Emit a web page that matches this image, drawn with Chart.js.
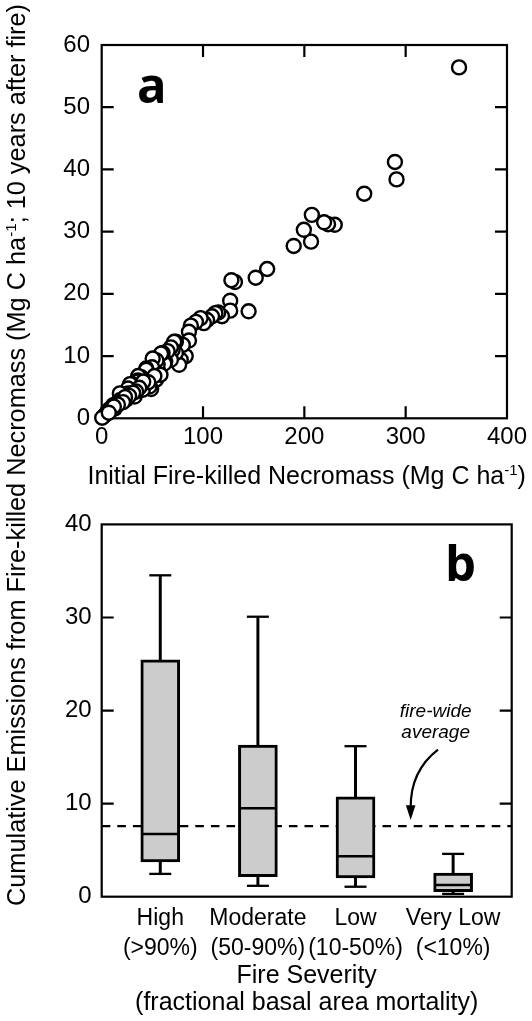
<!DOCTYPE html>
<html><head><meta charset="utf-8">
<script src="https://cdn.jsdelivr.net/npm/chart.js@4"></script>
<style>
html,body{margin:0;padding:0;background:#fff;}
body{width:532px;height:1021px;position:relative;overflow:hidden;font-family:'Liberation Sans',Arial,sans-serif;color:#000;}
canvas{position:absolute;left:0;}
.t{position:absolute;white-space:nowrap;text-align:center;}
sup{font-size:0.6em;vertical-align:0.6em;line-height:0;}
.big{position:absolute;font-family:'Open Sans',sans-serif;font-weight:700;font-size:49px;line-height:49px;}
</style></head><body>
<canvas id="ca" width="532" height="500" style="top:0;width:532px;height:500px"></canvas>
<canvas id="cb" width="532" height="521" style="top:500px;width:532px;height:521px"></canvas>
<div class="t" style="left:-484px;top:440px;width:1000px;height:30px;line-height:30px;font-size:25.3px;transform:rotate(-90deg);">Cumulative Emissions from Fire-killed Necromass (Mg C ha<sup>-1</sup>; 10 years after fire)</div>
<div class="t" style="left:6.7px;top:461px;width:600px;line-height:28px;font-size:25px;">Initial Fire-killed Necromass (Mg C ha<sup>-1</sup>)</div>
<div class="t" style="left:6.7px;top:961px;width:600px;line-height:27px;font-size:25px;">Fire Severity<br>(fractional basal area mortality)</div>
<div class="t" style="left:335.7px;top:700px;width:200px;line-height:21px;font-size:19px;font-style:italic;">fire-wide<br>average</div>
<div class="big" style="left:137px;top:60px;">a</div>
<div class="big" style="left:445px;top:538px;">b</div>
<script>
// ---------- Panel a data ----------
const necroInitial = [352.7,289.4,291,259.1,230,223.4,219.5,207.4,206.6,199.5,189.5,163.3,152,145,131.5,128,126.8,126.8,118.7,115,112.2,108.9,104,100.8,97.6,93,88,86.1,86.1,82.9,80,78,76.4,73.2,73.2,71.5,70,68.3,68.3,65,62.7,61.8,60.1,58.5,56,55.2,54,53.6,50.3,50.3,49.7,48.8,47.1,45,44,43.9,42.2,40.6,39,38,36,35.7,35.7,33,32.5,30.9,29.3,28,26,26,24,22.7,20,19,17.9,17.9,15,13,11.3,9.5,8.1,6.4,5,3.2,0.5,58,52,46,41,37,34,31,27,23,21,16,12,7];
const necroRemaining = [56.4,41.2,38.4,36.1,31.1,31.2,31.5,32.7,28.4,30.3,27.7,24.0,22.6,17.2,21.9,22.2,18.9,17.3,16.4,17.0,16.9,16.4,15.8,15.3,16.1,15.5,14.9,13.9,12.5,10.0,11.8,9.4,8.6,10.5,12.3,12.3,11.0,11.4,9.4,10.8,9.1,8.8,10.5,10.4,7.5,8.6,9.3,6.2,9.6,7.2,8.2,4.7,5.1,6.2,8.0,7.8,5.4,4.6,6.6,5.2,6.8,6.1,5.9,5.0,3.5,5.4,4.6,5.5,4.8,4.0,3.0,3.8,3.3,3.9,4.0,2.9,2.4,1.6,2.1,1.7,1.1,1.3,0.9,0.5,0.1,7.0,6.8,5.8,5.9,4.9,4.3,4.1,3.6,3.4,2.6,2.2,1.9,0.9];
const xTickValuesA = [0,100,200,300,400];
const yTickValuesA = [0,10,20,30,40,50,60];

// ---------- Panel b data ----------
const severityClass = ['High','Moderate','Low','Very Low'];
const severityRange = ['(>90%)','(50-90%)','(10-50%)','(<10%)'];
const whiskerLow  = [2.45, 1.17, 1.07, 0.3];
const quartile1   = [3.74, 2.14, 2.03, 0.55];
const medianVal   = [6.73, 9.5, 4.35, 1.25];
const quartile3   = [25.46, 16.3, 10.72, 2.55];
const whiskerHigh = [34.53, 30.08, 16.17, 4.6];
const fireWideAverage = 7.58;
const yTickValuesB = [0,10,20,30,40];
const xRangeB = [0.4, 4.6];

Chart.defaults.font.family = "'Liberation Sans', Arial, sans-serif";
Chart.defaults.font.size = 24;
Chart.defaults.color = '#000';
Chart.defaults.animation = false;
Chart.defaults.plugins.legend.display = false;
Chart.defaults.plugins.tooltip.enabled = false;

const framePlugin = {
  id: 'frame',
  beforeDatasetsDraw(chart, args, o) {
    const {ctx, chartArea: a} = chart;
    ctx.save();
    ctx.strokeStyle = '#000';
    ctx.lineWidth = 2.2;
    ctx.strokeRect(a.left, a.top, a.right - a.left, a.bottom - a.top);
    const L = 12;
    ctx.beginPath();
    if (o.xTicks) {
      const sx = chart.scales.x;
      sx.ticks.forEach(t => {
        const px = sx.getPixelForValue(t.value);
        if (px <= a.left + 1 || px >= a.right - 1) return;
        ctx.moveTo(px, a.bottom); ctx.lineTo(px, a.bottom - L);
        ctx.moveTo(px, a.top); ctx.lineTo(px, a.top + L);
      });
    }
    const sy = chart.scales.y;
    sy.ticks.forEach(t => {
      const py = sy.getPixelForValue(t.value);
      if (py <= a.top + 1 || py >= a.bottom - 1) return;
      ctx.moveTo(a.left, py); ctx.lineTo(a.left + L, py);
      ctx.moveTo(a.right, py); ctx.lineTo(a.right - L, py);
    });
    ctx.stroke();
    ctx.restore();
  }
};

const arrowPlugin = {
  id: 'arrow',
  afterDatasetsDraw(chart) {
    if (!chart.options.plugins.arrow) return;
    const {ctx} = chart;
    const sx = chart.scales.x, sy = chart.scales.y;
    const p = (x, y) => [sx.getPixelForValue(x), sy.getPixelForValue(y)];
    const s = p(3.845, 15.8), c = p(3.56, 13.5), e = p(3.565, 9.5), tip = p(3.565, 8.25);
    ctx.save();
    ctx.strokeStyle = '#000'; ctx.fillStyle = '#000'; ctx.lineWidth = 2.2;
    ctx.beginPath(); ctx.moveTo(s[0], s[1]); ctx.quadraticCurveTo(c[0], c[1], e[0], e[1]); ctx.stroke();
    ctx.beginPath(); ctx.moveTo(tip[0], tip[1]); ctx.lineTo(tip[0] - 4.8, e[1] - 3); ctx.lineTo(tip[0] + 4.8, e[1] - 3); ctx.closePath(); ctx.fill();
    ctx.restore();
  }
};

// ---------- Chart a ----------
new Chart(document.getElementById('ca'), {
  type: 'scatter',
  data: {
    datasets: [{
      data: necroInitial.map((x, i) => ({x, y: necroRemaining[i]})),
      pointRadius: 7,
      pointBackgroundColor: '#fff',
      pointBorderColor: '#000',
      pointBorderWidth: 2.4,
      clip: false
    }]
  },
  options: {
    responsive: false,
    devicePixelRatio: 1,
    layout: {padding: {left: 0, right: 20.3, top: 45, bottom: 0}},
    scales: {
      x: {
        type: 'linear', min: 0, max: 400, offset: false,
        grid: {display: false, drawTicks: false},
        border: {display: false},
        afterBuildTicks: s => { s.ticks = xTickValuesA.map(v => ({value: v})); },
        afterFit: s => { s.height = 81.7; },
        ticks: {padding: 5, autoSkip: false, maxRotation: 0, font: {size: 24}}
      },
      y: {
        min: 0, max: 60,
        grid: {display: false, drawTicks: false},
        border: {display: false},
        afterBuildTicks: s => { s.ticks = yTickValuesA.map(v => ({value: v})); },
        afterFit: s => { s.width = 101.7; },
        ticks: {padding: 11.7, font: {size: 24}}
      }
    },
    plugins: {frame: {xTicks: true}}
  },
  plugins: [framePlugin]
});

// ---------- Chart b ----------
const pos = severityClass.map((_, i) => i + 1);
new Chart(document.getElementById('cb'), {
  type: 'bar',
  data: {
    datasets: [
      {
        type: 'line',
        data: xRangeB.map(x => ({x, y: fireWideAverage})),
        borderColor: '#000', borderWidth: 2.2, borderDash: [8.6, 7],
        pointRadius: 0, order: 6, clip: false
      },
      {
        type: 'bar',
        data: pos.map((x, i) => ({x, y: [whiskerLow[i], whiskerHigh[i]]})),
        backgroundColor: '#000', borderWidth: 0, barThickness: 2.3, grouped: false, order: 5
      },
      {
        type: 'bar',
        data: pos.map((x, i) => ({x, y: [quartile1[i], quartile3[i]]})),
        backgroundColor: '#cccccc', borderColor: '#000', borderWidth: 3,
        borderSkipped: false, barThickness: 39, grouped: false, order: 3
      },
      {
        type: 'line', showLine: false,
        data: pos.flatMap((x, i) => [{x, y: whiskerLow[i]}, {x, y: whiskerHigh[i]}]),
        pointStyle: 'line', pointRadius: 11, pointBorderColor: '#000', pointBorderWidth: 2.3,
        order: 1, clip: false
      },
      {
        type: 'line', showLine: false,
        data: pos.map((x, i) => ({x, y: medianVal[i]})),
        pointStyle: 'line', pointRadius: 17.5, pointBorderColor: '#000', pointBorderWidth: 2.6,
        order: 1
      }
    ]
  },
  options: {
    responsive: false,
    devicePixelRatio: 1,
    layout: {padding: {left: 0, right: 20.3, top: 22.5, bottom: 0}},
    scales: {
      x: {
        type: 'linear', min: xRangeB[0], max: xRangeB[1], offset: false,
        grid: {display: false, drawTicks: false, offset: false},
        border: {display: false},
        afterBuildTicks: s => { s.ticks = pos.map(v => ({value: v})); },
        afterFit: s => { s.height = 124.3; },
        ticks: {
          padding: 7, autoSkip: false, maxRotation: 0, minRotation: 0,
          font: {size: 23, lineHeight: 1.3},
          callback: (v, i) => [severityClass[i], severityRange[i]]
        }
      },
      y: {
        min: 0, max: 40,
        grid: {display: false, drawTicks: false},
        border: {display: false},
        afterBuildTicks: s => { s.ticks = yTickValuesB.map(v => ({value: v})); },
        afterFit: s => { s.width = 101.7; },
        ticks: {padding: 10, font: {size: 24}}
      }
    },
    plugins: {frame: {xTicks: false}, arrow: true}
  },
  plugins: [framePlugin, arrowPlugin]
});
</script>
</body></html>
